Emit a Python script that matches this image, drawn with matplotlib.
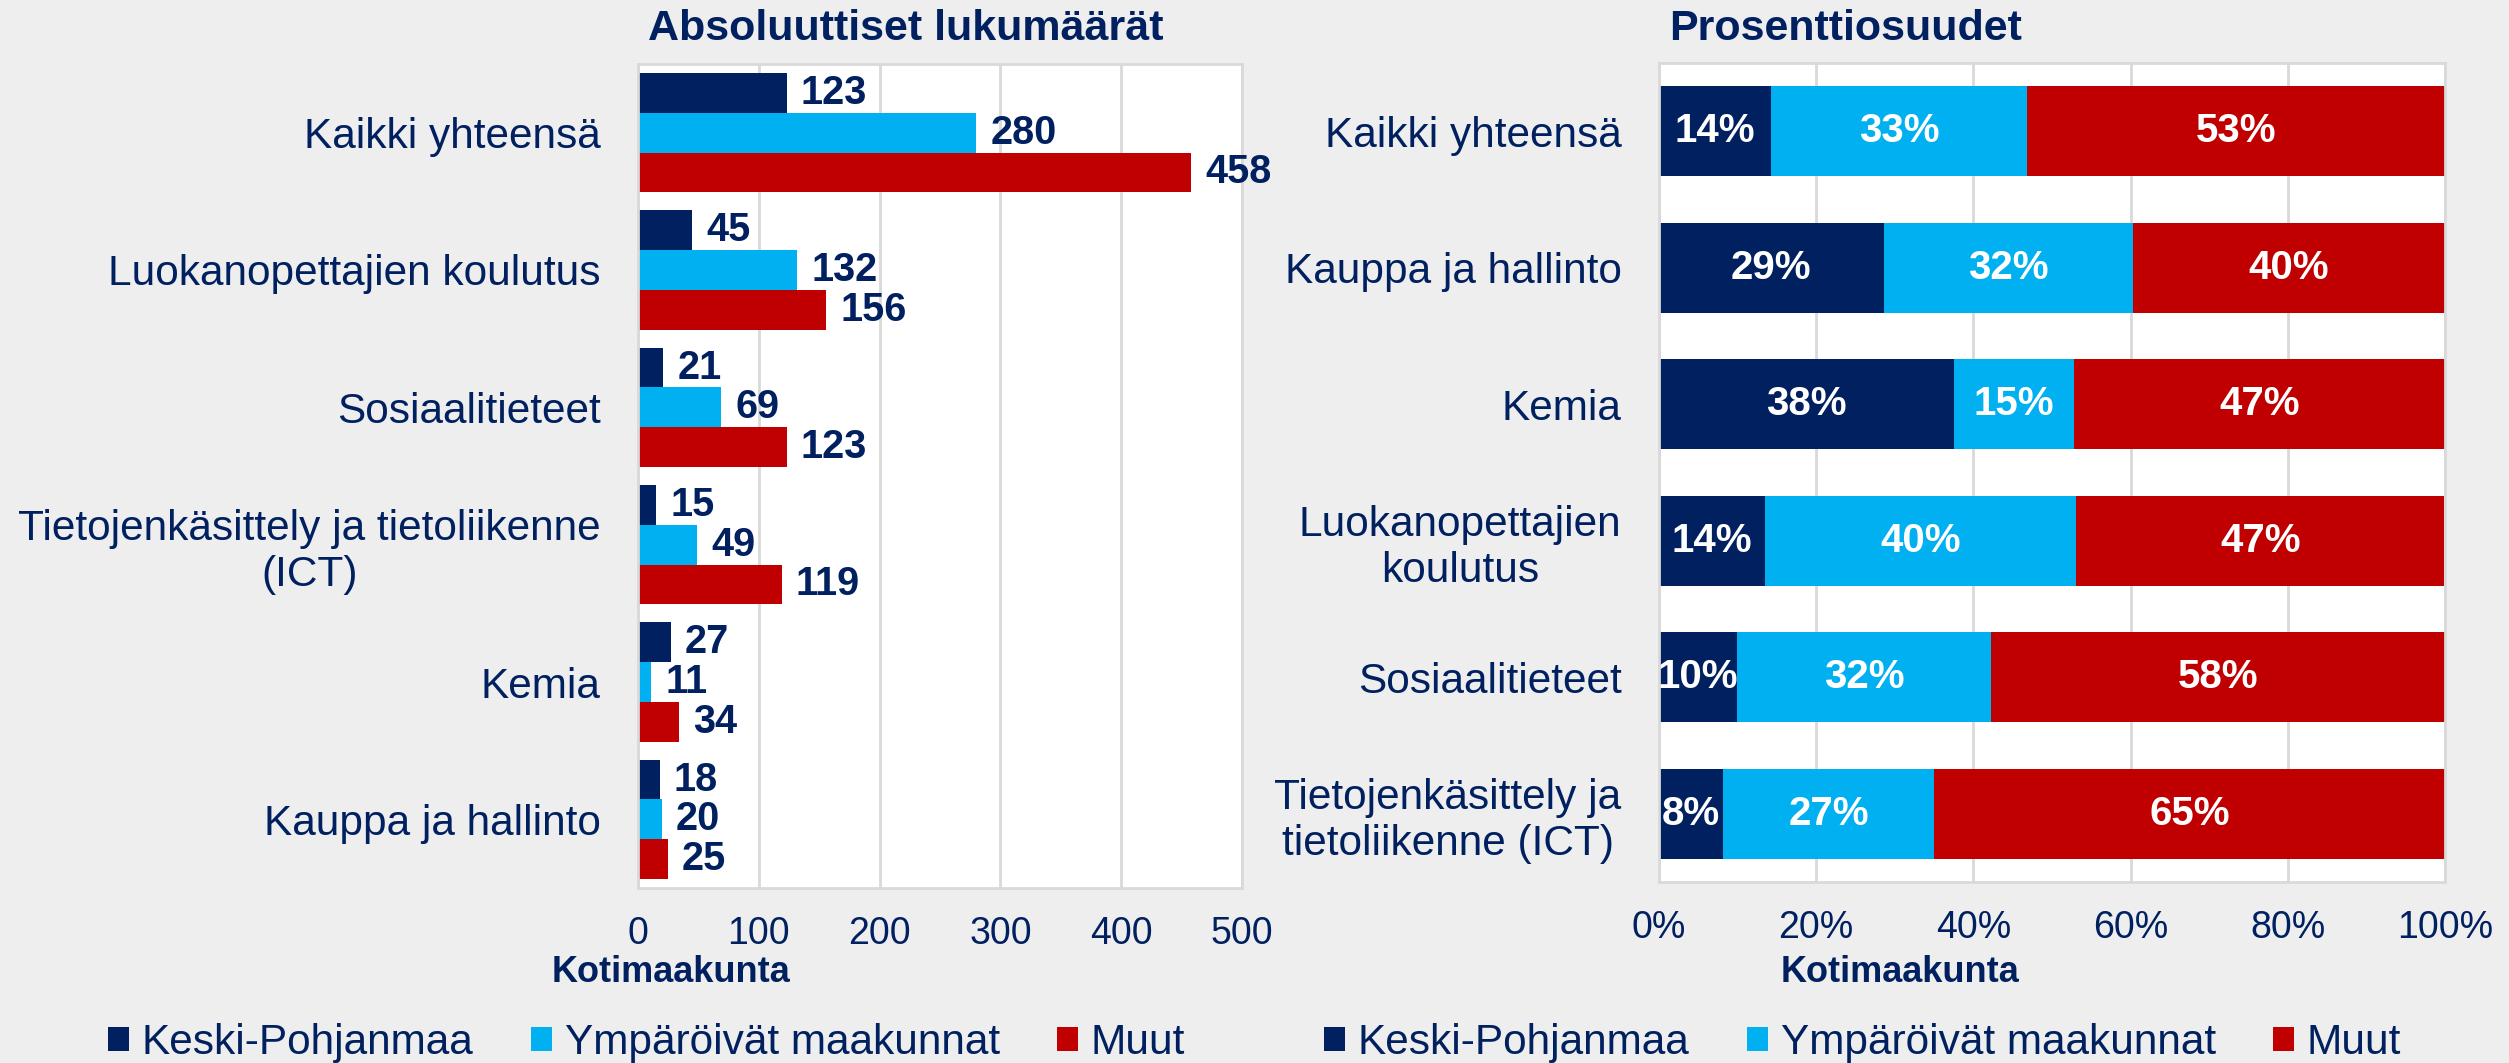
import matplotlib.pyplot as plt
import numpy as np
from matplotlib.patches import Patch

NAVY = "#002060"
LIGHT_BLUE = "#00B0F0"
RED = "#C00000"
BG = "#EEEEEE"
GRID = "#D9D9D9"

SERIES = ["Keski-Pohjanmaa", "Ympäröivät maakunnat", "Muut"]
COLORS = [NAVY, LIGHT_BLUE, RED]

# absolute counts (left panel), top to bottom
abs_categories = [
    "Kaikki yhteensä",
    "Luokanopettajien koulutus",
    "Sosiaalitieteet",
    "Tietojenkäsittely ja tietoliikenne\n(ICT)",
    "Kemia",
    "Kauppa ja hallinto",
]
abs_keski = [123, 45, 21, 15, 27, 18]
abs_ympar = [280, 132, 69, 49, 11, 20]
abs_muut = [458, 156, 123, 119, 34, 25]

# percentage shares (right panel), top to bottom
pct_categories = [
    "Kaikki yhteensä",
    "Kauppa ja hallinto",
    "Kemia",
    "Luokanopettajien\nkoulutus",
    "Sosiaalitieteet",
    "Tietojenkäsittely ja\ntietoliikenne (ICT)",
]
pct_keski = [14.3, 28.6, 37.5, 13.51, 9.9, 8.2]
pct_ympar = [32.52, 31.7, 15.3, 39.6, 32.4, 26.8]
pct_muut = [53.2, 39.7, 47.2, 46.8, 57.7, 65.0]

abs_ticks = [0, 100, 200, 300, 400, 500]
pct_ticks = [0, 20, 40, 60, 80, 100]

plt.rcParams["font.family"] = ["Liberation Sans", "DejaVu Sans"]

W, H = 2509, 1063
fig = plt.figure(figsize=(W / 100, H / 100), dpi=100, facecolor=BG)


def style_axes(ax):
    ax.set_facecolor("white")
    for sp in ax.spines.values():
        sp.set_color(GRID)
        sp.set_linewidth(2)
    ax.grid(axis="x", color=GRID, linewidth=2)
    ax.set_axisbelow(True)
    ax.tick_params(axis="both", length=0, colors=NAVY)
    ax.tick_params(axis="x", labelsize=27, pad=20)
    ax.tick_params(axis="y", labelsize=30.5, pad=27)
    for lbl in ax.get_yticklabels():
        lbl.set_multialignment("center")


# ---- left: absolute counts ----
ax1 = fig.add_axes([638 / W, 1 - 888 / H, (1242 - 638) / W, (888 - 64) / H])
y = np.arange(len(abs_categories))
h = 0.29
for k, (vals, col) in enumerate(zip([abs_keski, abs_ympar, abs_muut], COLORS)):
    bars = ax1.barh(y + (k - 1) * h, vals, height=h, color=col, label=SERIES[k])
    ax1.bar_label(bars, labels=[str(v) for v in vals], padding=10,
                  fontsize=28.5, fontweight="bold", color=NAVY)
ax1.set_xlim(0, 500)
ax1.set_xticks(abs_ticks)
ax1.set_ylim(-0.5, len(abs_categories) - 0.5)
ax1.invert_yaxis()
ax1.set_yticks(y)
ax1.set_yticklabels(abs_categories)
style_axes(ax1)

# ---- right: percentage shares ----
ax2 = fig.add_axes([1659 / W, 1 - 882 / H, (2445 - 1659) / W, (882 - 63) / H])
y2 = np.arange(len(pct_categories))
left = np.zeros(len(pct_categories))
for k, (vals, col) in enumerate(zip([pct_keski, pct_ympar, pct_muut], COLORS)):
    vals = np.array(vals)
    bars = ax2.barh(y2, vals, left=left, height=0.66, color=col, label=SERIES[k])
    ax2.bar_label(bars, labels=[f"{v:.0f}%" for v in vals], label_type="center",
                  fontsize=29, fontweight="bold", color="white")
    left += vals
ax2.set_xlim(0, 100)
ax2.set_xticks(pct_ticks)
ax2.set_xticklabels([f"{t}%" for t in pct_ticks])
ax2.set_ylim(-0.5, len(pct_categories) - 0.5)
ax2.invert_yaxis()
ax2.set_yticks(y2)
ax2.set_yticklabels(pct_categories)
style_axes(ax2)

# titles and axis captions
fig.text(648 / W, 1 - 29 / H, "Absoluuttiset lukumäärät", fontsize=31,
         fontweight="bold", color=NAVY, ha="left", va="center")
fig.text(1669 / W, 1 - 29 / H, "Prosenttiosuudet", fontsize=31,
         fontweight="bold", color=NAVY, ha="left", va="center")
fig.text(552 / W, 1 - 972 / H, "Kotimaakunta", fontsize=26,
         fontweight="bold", color=NAVY, ha="left", va="center")
fig.text(1781 / W, 1 - 972 / H, "Kotimaakunta", fontsize=26,
         fontweight="bold", color=NAVY, ha="left", va="center")

# legends
handles = [Patch(facecolor=c, edgecolor="none") for c in COLORS]
for x0 in (108 / W, 1324 / W):
    fig.legend(handles, SERIES, loc="center left", bbox_to_anchor=(x0, 1 - 1043 / H),
               ncol=3, frameon=False, fontsize=30.5, labelcolor=NAVY,
               handlelength=0.5, handleheight=0.5, handletextpad=0.3,
               columnspacing=1.35, borderpad=0, borderaxespad=0)

fig.savefig("out.png", dpi=100, facecolor=BG)
